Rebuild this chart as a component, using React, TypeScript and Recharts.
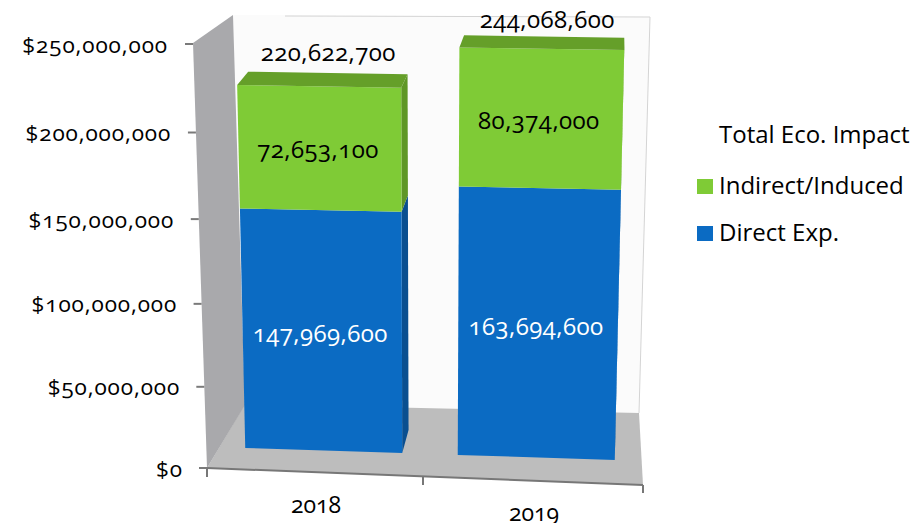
import { BarChart, Bar, XAxis, YAxis, Legend, LabelList } from 'recharts';

const YEARS = ['2018', '2019'];
const DIRECT = [147969600, 163694600];
const INDIRECT = [72653100, 80374000];
const TOTALS = [220622700, 244068600];
const Y_TICKS = [0, 50000000, 100000000, 150000000, 200000000, 250000000];
const LEGEND_TITLE = 'Total Eco. Impact';

const rows = YEARS.map((year, i) => ({
  year,
  direct: DIRECT[i],
  indirect: INDIRECT[i],
  total: TOTALS[i],
}));

const FONT = '"Open Sans", sans-serif';
const NUMS = { fontVariantNumeric: 'oldstyle-nums', fontFeatureSettings: '"onum"' } as const;
const GREEN = '#7fcb36';
const GREEN_TOP = '#659f29';
const GREEN_SIDE = '#5f9726';
const BLUE = '#0b6bc3';
const BLUE_SIDE = '#0a4f90';

const PLOT_LEFT = 217.25;
const PLOT_RIGHT = 642.25;
const PLOT_TOP = 44;
const PLOT_BOTTOM = 468;
const PLOT_H = PLOT_BOTTOM - PLOT_TOP;

// vertical foreshortening of the 3D view
const K = 0.9476;
const persp = (v: number) => (v * K) / (1 + (K - 1) * v);
const persY = (y: number) => persp((PLOT_BOTTOM - y) / PLOT_H);

// plot coords -> plane of the bar fronts
const front = (x: number, y: number): [number, number] => {
  const s = persY(y);
  const base = 448 + 0.0324 * (x - 245);
  const h = 414 + (x - 245) * 0.0178;
  return [x + s * (x - 425) * 0.0513, base - h * s];
};

// offset from a front corner to the corner behind it
const back = (p: [number, number], s: number): [number, number] => [
  p[0] + 11 - (p[0] - 237) * 0.0284,
  p[1] - (23 - 11 * s),
];

const pts = (list: [number, number][]) => list.map((p) => p.join(',')).join(' ');

const Box3D = (props: any) => {
  const { x, y, width, height, color, sideColor, capped } = props;
  const tl = front(x, y);
  const tr = front(x + width, y);
  const bl = front(x, y + height);
  const br = front(x + width, y + height);
  const sTop = persY(y);
  const sBot = persY(y + height);
  return (
    <g>
      <polygon points={pts([br, tr, back(tr, sTop), back(br, sBot)])} fill={sideColor} />
      <polygon points={pts([tl, tr, br, bl])} fill={color} />
      {capped && (
        <polygon points={pts([tl, tr, back(tr, sTop), back(tl, sTop)])} fill={GREEN_TOP} />
      )}
    </g>
  );
};

const money = (n: number) => n.toLocaleString('en-US');

const SegmentLabel = (props: any) => {
  const box = props.viewBox ?? props;
  const [cx, cy] = front(box.x + box.width / 2, box.y + box.height / 2);
  return (
    <text
      x={cx - 2}
      y={cy}
      textAnchor="middle"
      dominantBaseline="central"
      fontFamily={FONT}
      fontSize={props.size}
      letterSpacing={0.45}
      fill={props.color}
      style={NUMS}
    >
      {money(props.value)}
    </text>
  );
};

const TotalLabel = (props: any) => {
  const box = props.viewBox ?? props;
  const midX = box.x + box.width / 2;
  const [cx, cy] = front(midX, box.y);
  const t = (midX - 323.5) / 212.5;
  return (
    <text
      x={cx + 9 - 3.5 * t}
      y={cy - 35 + 5 * t}
      textAnchor="middle"
      dominantBaseline="central"
      fontFamily={FONT}
      fontSize={props.size}
      letterSpacing={0.45}
      fill="#000"
      style={NUMS}
    >
      {money(props.value)}
    </text>
  );
};

const YTick = (props: any) => {
  const { y, payload } = props;
  const s = persY(y);
  const sy = PLOT_BOTTOM - PLOT_H * s;
  const ax = 207 - 14 * s;
  return (
    <g>
      <line x1={ax - 8} y1={sy} x2={ax} y2={sy} stroke="#7a7a7a" strokeWidth={2} />
      <text
        x={183 - 15 * s}
        y={sy}
        textAnchor="end"
        dominantBaseline="central"
        fontFamily={FONT}
        fontSize={22.5}
        letterSpacing={0.9}
        fill="#000"
        style={NUMS}
      >
        {'$' + money(payload.value)}
      </text>
    </g>
  );
};

const XTick = (props: any) => {
  const { x, payload } = props;
  const ax = 207 + (x - PLOT_LEFT) * (436 / 425);
  return (
    <text
      x={ax}
      y={504 + (ax - 316) * 0.0367}
      textAnchor="middle"
      dominantBaseline="central"
      fontFamily={FONT}
      fontSize={23}
      fill="#000"
      style={NUMS}
    >
      {payload.value}
    </text>
  );
};

// walls, floor and the slanted category axis
const Backdrop = () => (
  <g>
    <polygon points="233,15 650,17 639,413 245,405" fill="#fbfbfb" />
    <polyline points="285,16 650,17 639,413" fill="none" stroke="#d4d4d4" strokeWidth={1} />
    <polygon points="207,468 643,485 639,413 245,404" fill="#bdbdbd" />
    <polygon points="193,43 233,15 245,405 207,468" fill="#a9a9ac" />
    <line x1={207} y1={468} x2={643} y2={485} stroke="#777" strokeWidth={2} />
    <line x1={207} y1={468} x2={207} y2={477} stroke="#777" strokeWidth={2} />
    <line x1={423} y1={477} x2={423} y2={485} stroke="#777" strokeWidth={2} />
    <line x1={643} y1={485} x2={643} y2={493} stroke="#777" strokeWidth={2} />
  </g>
);

const LegendBox = ({ payload }: any) => (
  <div style={{ fontFamily: FONT, fontSize: 24, color: '#000', lineHeight: '24px', whiteSpace: 'nowrap' }}>
    <div style={{ marginLeft: 29, height: 39 }}>{LEGEND_TITLE}</div>
    {[...(payload ?? [])]
      .sort((a: any, b: any) => (a.value < b.value ? 1 : -1))
      .map((item: any) => (
        <div key={item.value} style={{ display: 'flex', alignItems: 'center', height: 47.5 }}>
          <span
            style={{ width: 16, height: 15, marginRight: 6, marginLeft: 7, marginTop: 3, background: item.color }}
          />
          {item.value}
        </div>
      ))}
  </div>
);

export default function App() {
  return (
    <div style={{ position: 'absolute', left: 0, top: 0, width: 924, height: 523, background: '#fff' }}>
      <BarChart
        width={924}
        height={523}
        data={rows}
        barSize={157}
        margin={{ top: PLOT_TOP, right: 924 - PLOT_RIGHT, bottom: 0, left: 0 }}
      >
        <Backdrop />
        <XAxis
          dataKey="year"
          height={523 - PLOT_BOTTOM}
          axisLine={false}
          tickLine={false}
          tick={<XTick />}
        />
        <YAxis
          width={PLOT_LEFT}
          domain={[0, 250000000]}
          ticks={Y_TICKS}
          axisLine={false}
          tickLine={false}
          tick={<YTick />}
        />
        <Legend
          layout="vertical"
          align="center"
          verticalAlign="middle"
          content={<LegendBox />}
          wrapperStyle={{ left: 690, top: 122, width: 234 }}
        />
        <Bar
          dataKey="direct"
          name="Direct Exp."
          stackId="impact"
          fill={BLUE}
          isAnimationActive={false}
          shape={(p: any) => <Box3D {...p} color={BLUE} sideColor={BLUE_SIDE} />}
        >
          <LabelList dataKey="direct" content={(p: any) => <SegmentLabel {...p} size={24} color="#fff" />} />
        </Bar>
        <Bar
          dataKey="indirect"
          name="Indirect/Induced"
          stackId="impact"
          fill={GREEN}
          isAnimationActive={false}
          shape={(p: any) => <Box3D {...p} color={GREEN} sideColor={GREEN_SIDE} capped />}
        >
          <LabelList dataKey="indirect" content={(p: any) => <SegmentLabel {...p} size={24} color="#000" />} />
          <LabelList dataKey="total" content={(p: any) => <TotalLabel {...p} size={24} />} />
        </Bar>
      </BarChart>
    </div>
  );
}
